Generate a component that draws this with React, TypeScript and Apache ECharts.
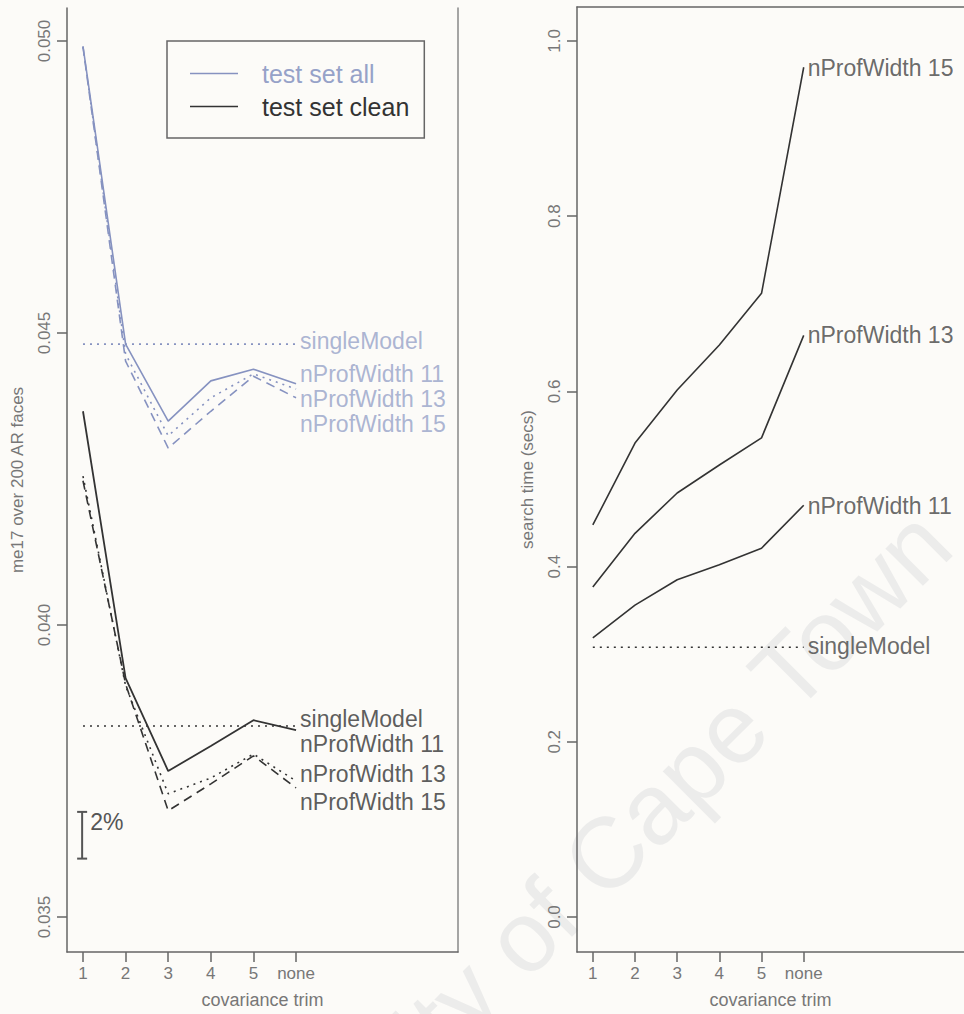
import React, { useEffect, useRef } from "react";
import * as echarts from "echarts";

const FONT = "'Liberation Sans', Arial, Helvetica, sans-serif";

// x positions: covariance trim
const trimLabels = ["1", "2", "3", "4", "5", "none"];
const trimX = [1, 2, 3, 4, 5, 6];

// left panel: me17 over 200 AR faces
const allW11 = [0.04991, 0.04481, 0.04349, 0.04418, 0.04438, 0.04413];
const allW13 = [0.0499, 0.04464, 0.04324, 0.04389, 0.0443, 0.04404];
const allW15 = [0.0499, 0.04452, 0.04303, 0.04366, 0.04426, 0.04389];
const allSingle = 0.04481;
const cleanW11 = [0.04366, 0.03909, 0.0375, 0.03793, 0.03837, 0.0382];
const cleanW13 = [0.04255, 0.03896, 0.03711, 0.03738, 0.03779, 0.03733];
const cleanW15 = [0.04247, 0.03899, 0.03682, 0.03728, 0.03776, 0.03721];
const cleanSingle = 0.03827;
const leftTicks = [0.035, 0.04, 0.045, 0.05];

// end-label positions (value)
const allLabelNames = ["singleModel", "nProfWidth 11", "nProfWidth 13", "nProfWidth 15"];
const allLabelY = [0.04486, 0.0443, 0.04387, 0.04344];
const cleanLabelNames = ["singleModel", "nProfWidth 11", "nProfWidth 13", "nProfWidth 15"];
const cleanLabelY = [0.03839, 0.03796, 0.03745, 0.03697];

// 2% scale bar
const scaleBarX = 0.98;
const scaleBarRange = [0.036, 0.0368];

// right panel: search time (secs)
const timeW15 = [0.4475, 0.541, 0.6016, 0.653, 0.712, 0.97];
const timeW13 = [0.3767, 0.438, 0.484, 0.516, 0.547, 0.664];
const timeW11 = [0.3185, 0.356, 0.385, 0.402, 0.421, 0.47];
const timeSingle = 0.308;
const rightTicks = [0, 0.2, 0.4, 0.6, 0.8, 1.0];
const timeLabelNames = ["nProfWidth 15", "nProfWidth 13", "nProfWidth 11", "singleModel"];
const timeLabelY = [0.969, 0.664, 0.469, 0.309];

const BLUE = "#8692c0";
const BLUE_TEXT = "#96a2c8";
const BLACK = "#333333";
const AXIS = "#666666";
const TICKTEXT = "#777777";

const X_MIN = 0.625;
const X_MAX = 9.8;
const L_MIN = 0.034401;
const L_MAX = 0.050565;
const R_MIN = -0.03995;
const R_MAX = 1.0388;

const DOT = [2, 5];
const DASH = [9, 6];

function xAxisFor(gridIndex: number) {
  return {
    type: "value",
    gridIndex,
    min: X_MIN,
    max: X_MAX,
    position: "bottom",
    axisLine: { show: true, onZero: false, lineStyle: { color: AXIS, width: 1.5 } },
    axisTick: { show: true, length: 10, customValues: trimX, lineStyle: { color: AXIS, width: 1.5 } },
    axisLabel: {
      customValues: trimX,
      formatter: (v: number) => trimLabels[trimX.indexOf(v)] ?? "",
      fontSize: 17,
      color: TICKTEXT,
      margin: 13,
      fontFamily: FONT,
    },
    splitLine: { show: false },
    name: "covariance trim",
    nameLocation: "middle",
    nameGap: 39,
    nameTextStyle: { fontSize: 18, color: TICKTEXT, fontFamily: FONT },
  };
}

function line(name: string, xi: number, yi: number, values: number[], color: string, type: any, width = 1.6) {
  return {
    type: "line",
    name,
    xAxisIndex: xi,
    yAxisIndex: yi,
    data: trimX.map((x, i) => [x, values[i]]),
    symbol: "none",
    lineStyle: { color, width, type },
    itemStyle: { color },
    silent: true,
  };
}

function flat(name: string, xi: number, yi: number, v: number, color: string) {
  return {
    type: "line",
    name,
    xAxisIndex: xi,
    yAxisIndex: yi,
    data: [[trimX[0], v], [trimX[trimX.length - 1], v]],
    symbol: "none",
    lineStyle: { color, width: 1.6, type: DOT },
    itemStyle: { color },
    silent: true,
  };
}

function labels(xi: number, yi: number, names: string[], ys: number[], color: string) {
  return {
    type: "scatter",
    xAxisIndex: xi,
    yAxisIndex: yi,
    symbolSize: 0,
    silent: true,
    data: names.map((n, i) => ({ name: n, value: [trimX[trimX.length - 1], ys[i]] })),
    label: {
      show: true,
      position: "right",
      distance: 4,
      formatter: "{b}",
      fontSize: 23,
      lineHeight: 19,
      color,
      fontFamily: FONT,
    },
  };
}

export default function App() {
  const ref = useRef<HTMLDivElement>(null);
  useEffect(() => {
    if (!ref.current) return;
    const chart = echarts.init(ref.current, undefined, { renderer: "svg" });
    chart.setOption({
      animation: false,
      backgroundColor: "#fcfbf8",
      textStyle: { fontFamily: FONT },
      graphic: [
        {
          type: "text",
          x: 968,
          y: 562,
          rotation: Math.PI / 4,
          z: -10,
          silent: true,
          style: {
            text: "University of Cape Town",
            align: "right",
            verticalAlign: "bottom",
            fontSize: 100,
            fontFamily: FONT,
            fill: "#ececeb",
          },
        },
      ],
      grid: [
        { left: 67, top: 8, width: 391, height: 944 },
        { left: 577, top: 7, width: 391, height: 945 },
      ],
      legend: {
        left: 167,
        top: 41,
        orient: "vertical",
        selectedMode: false,
        data: [
          { name: "test set all", icon: "rect", textStyle: { color: BLUE_TEXT } },
          { name: "test set clean", icon: "rect", textStyle: { color: BLACK } },
        ],
        itemWidth: 48,
        itemHeight: 1.6,
        itemGap: 8,
        padding: [20, 15, 19, 23],
        borderColor: AXIS,
        borderWidth: 1.5,
        textStyle: { fontSize: 25, lineHeight: 25, padding: [0, 0, 0, 19], fontFamily: FONT },
      },
      xAxis: [
        xAxisFor(0),
        xAxisFor(1),
        {
          type: "value",
          gridIndex: 1,
          position: "top",
          min: X_MIN,
          max: X_MAX,
          axisLine: { show: true, onZero: false, lineStyle: { color: AXIS, width: 1.5 } },
          axisTick: { show: false },
          axisLabel: { show: false },
          splitLine: { show: false },
        },
      ],
      yAxis: [
        {
          type: "value",
          gridIndex: 0,
          min: L_MIN,
          max: L_MAX,
          axisLine: { show: true, lineStyle: { color: AXIS, width: 1.5 } },
          axisTick: { show: true, length: 10, customValues: leftTicks, lineStyle: { color: AXIS, width: 1.5 } },
          axisLabel: {
            customValues: leftTicks,
            formatter: (v: number) => v.toFixed(3),
            rotate: 90,
            fontSize: 17,
            color: TICKTEXT,
            margin: 14,
            fontFamily: FONT,
          },
          splitLine: { show: false },
          name: "me17 over 200 AR faces",
          nameLocation: "middle",
          nameGap: 41,
          nameRotate: 90,
          nameTextStyle: { fontSize: 17, color: TICKTEXT, fontFamily: FONT },
        },
        {
          type: "value",
          gridIndex: 0,
          position: "right",
          min: L_MIN,
          max: L_MAX,
          axisLine: { show: true, lineStyle: { color: "#888", width: 1.5 } },
          axisTick: { show: false },
          axisLabel: { show: false },
          splitLine: { show: false },
        },
        {
          type: "value",
          gridIndex: 1,
          min: R_MIN,
          max: R_MAX,
          axisLine: { show: true, lineStyle: { color: AXIS, width: 1.5 } },
          axisTick: { show: true, length: 10, customValues: rightTicks, lineStyle: { color: AXIS, width: 1.5 } },
          axisLabel: {
            customValues: rightTicks,
            formatter: (v: number) => v.toFixed(1),
            rotate: 90,
            fontSize: 17,
            color: TICKTEXT,
            margin: 14,
            fontFamily: FONT,
          },
          splitLine: { show: false },
          name: "search time (secs)",
          nameLocation: "middle",
          nameGap: 41,
          nameRotate: 90,
          nameTextStyle: { fontSize: 17, color: TICKTEXT, fontFamily: FONT },
        },
      ],
      series: [
        flat("all singleModel", 0, 0, allSingle, BLUE),
        line("test set all", 0, 0, allW11, BLUE, "solid"),
        line("all nProfWidth 13", 0, 0, allW13, BLUE, DOT),
        line("all nProfWidth 15", 0, 0, allW15, BLUE, DASH),
        flat("clean singleModel", 0, 0, cleanSingle, BLACK),
        line("test set clean", 0, 0, cleanW11, BLACK, "solid", 1.8),
        line("clean nProfWidth 13", 0, 0, cleanW13, BLACK, DOT),
        line("clean nProfWidth 15", 0, 0, cleanW15, BLACK, DASH),
        labels(0, 0, allLabelNames, allLabelY, BLUE_TEXT),
        labels(0, 0, cleanLabelNames, cleanLabelY, BLACK),
        {
          type: "line",
          name: "scale bar",
          xAxisIndex: 0,
          yAxisIndex: 0,
          silent: true,
          symbol: "rect",
          symbolSize: [10, 2],
          lineStyle: { color: "#555", width: 2 },
          itemStyle: { color: "#555" },
          data: [
            { value: [scaleBarX, scaleBarRange[0]] },
            {
              value: [scaleBarX, scaleBarRange[1]],
              label: {
                show: true,
                formatter: "2%",
                position: "right",
                distance: 3,
                offset: [0, 10],
                fontSize: 23,
                color: "#555",
                fontFamily: FONT,
              },
            },
          ],
        },
        line("time nProfWidth 15", 1, 2, timeW15, BLACK, "solid"),
        line("time nProfWidth 13", 1, 2, timeW13, BLACK, "solid"),
        line("time nProfWidth 11", 1, 2, timeW11, BLACK, "solid"),
        flat("time singleModel", 1, 2, timeSingle, BLACK),
        labels(1, 2, timeLabelNames, timeLabelY, "#444"),
      ],
    });
    return () => chart.dispose();
  }, []);
  return (
    <div
      ref={ref}
      style={{ position: "fixed", left: 0, top: 0, width: 964, height: 1014 }}
    />
  );
}
